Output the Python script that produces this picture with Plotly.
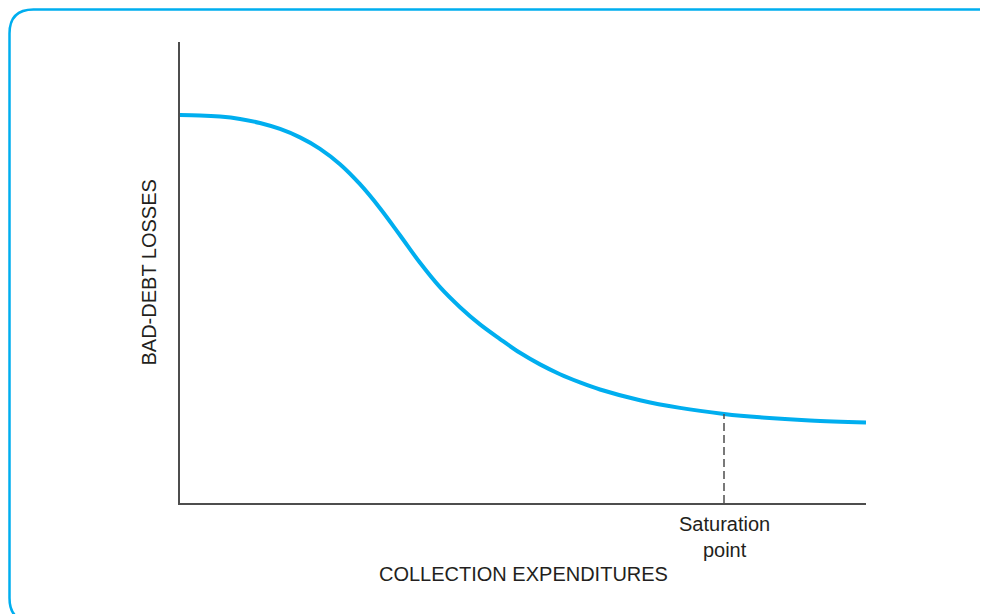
import plotly.graph_objects as go

# Curve (x: collection expenditures 0-100, y: bad-debt losses 0-100)
expenditures = [0, 2.92, 5.83, 8.75, 11.66, 14.58, 17.49, 20.41, 23.32, 26.24, 29.15,
                32.07, 34.99, 37.90, 40.82, 43.73, 46.65, 49.56, 52.48, 55.39, 58.31,
                61.22, 67.06, 72.89, 79.30, 84.55, 91.84, 100]
losses = [84.16, 84.08, 83.82, 83.30, 82.43, 81.13, 79.31, 76.83, 73.49, 69.15, 63.95,
          58.09, 52.10, 46.81, 42.47, 38.74, 35.57, 32.58, 30.07, 27.94, 26.16,
          24.62, 22.30, 20.63, 19.33, 18.59, 17.90, 17.44]
saturation_x = 79.30
saturation_y = 19.33

x_title = "COLLECTION EXPENDITURES"
y_title = "BAD-DEBT LOSSES"
sat_label = "Saturation<br>point"

CYAN = "#00AEEF"
AXIS = "#4d4d4d"
TEXT = "#231f20"
FONT = "Liberation Sans"

OFF = 8  # default body margin of the page
W, H = 988 - OFF, 614 - OFF
L, R, T, B = 180, 866, 42, 503  # plot area in page pixels


def px(xp):
    return (xp - L) / (R - L)


def py(yp):
    return (B - yp) / (B - T)


fig = go.Figure()
fig.add_trace(go.Scatter(x=expenditures, y=losses, mode="lines",
                         line=dict(color=CYAN, width=4, shape="spline", smoothing=1.0),
                         hoverinfo="skip", showlegend=False))
fig.add_trace(go.Scatter(x=[saturation_x, saturation_x], y=[0, saturation_y], mode="lines",
                         line=dict(color=AXIS, width=1.5, dash="8px,4px"),
                         hoverinfo="skip", showlegend=False))

# rounded frame
x0, y0, x1, y1, r = 9.5, 9.5, 1004, 622, 24
path = (f"M {px(x0)},{py(y0 + r)} Q {px(x0)},{py(y0)} {px(x0 + r)},{py(y0)} "
        f"L {px(x1 - r)},{py(y0)} Q {px(x1)},{py(y0)} {px(x1)},{py(y0 + r)} "
        f"L {px(x1)},{py(y1 - r)} Q {px(x1)},{py(y1)} {px(x1 - r)},{py(y1)} "
        f"L {px(x0 + r)},{py(y1)} Q {px(x0)},{py(y1)} {px(x0)},{py(y1 - r)} Z")
fig.add_shape(type="path", path=path, xref="paper", yref="paper",
              line=dict(color=CYAN, width=2.5), layer="below")

fig.add_annotation(text=x_title, x=0.5, y=py(574), xref="paper", yref="paper",
                   showarrow=False, font=dict(family=FONT, size=20, color=TEXT),
                   xanchor="center", yanchor="middle")
fig.add_annotation(text=y_title, x=px(148), y=0.5, xref="paper", yref="paper",
                   showarrow=False, textangle=-90,
                   font=dict(family=FONT, size=20, color=TEXT),
                   xanchor="center", yanchor="middle")
fig.add_annotation(text=sat_label, x=saturation_x, y=py(536.5), xref="x", yref="paper",
                   showarrow=False, font=dict(family=FONT, size=20, color=TEXT),
                   xanchor="center", yanchor="middle", align="center")

fig.update_xaxes(range=[0, 100], showline=True, linecolor=AXIS, linewidth=1.5,
                 showgrid=False, zeroline=False, showticklabels=False, ticks="")
fig.update_yaxes(range=[0, 100], showline=True, linecolor=AXIS, linewidth=1.5,
                 showgrid=False, zeroline=False, showticklabels=False, ticks="")
fig.update_layout(width=W, height=H,
                  margin=dict(l=L - OFF, r=(W + OFF) - R, t=T - OFF, b=(H + OFF) - B),
                  paper_bgcolor="white", plot_bgcolor="white")

fig.write_html("out.html")
